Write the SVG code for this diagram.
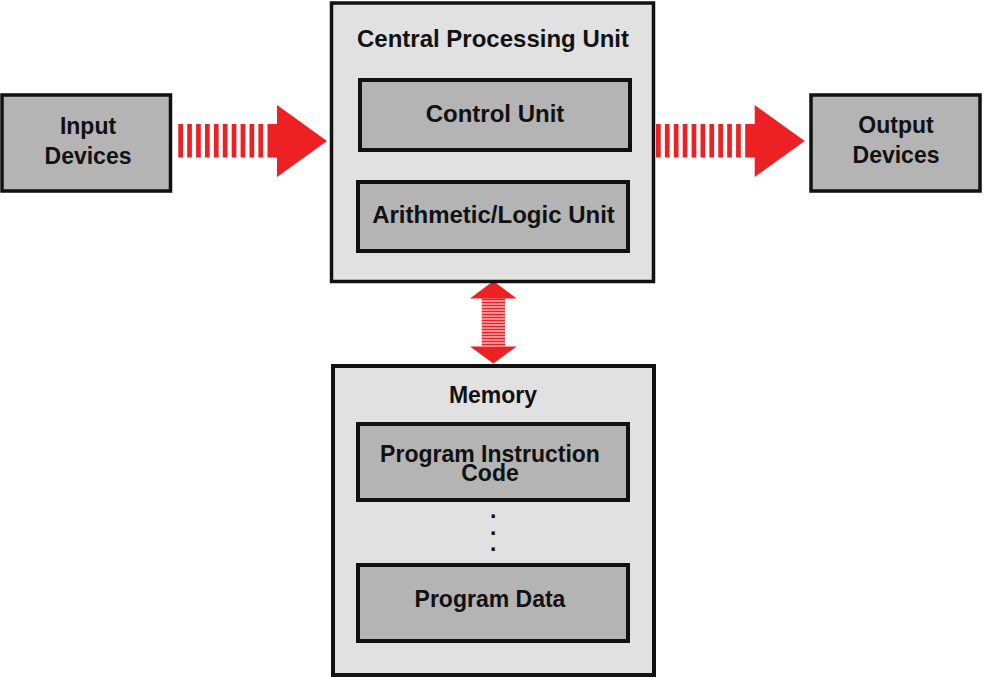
<svg xmlns="http://www.w3.org/2000/svg" xmlns:xlink="http://www.w3.org/1999/xlink" width="1000" height="677" viewBox="0 0 1000 677">
<style>
.outer{fill:#e1e1e1;stroke:#111;stroke-width:3.5}
.inner{fill:#b4b4b4;stroke:#111;stroke-width:4}
.ext{fill:#b4b4b4;stroke:#111;stroke-width:3.5}
.lbl{font-family:"Liberation Sans",Arial,Helvetica,sans-serif;font-weight:bold;font-size:23px;fill:#111;text-anchor:middle}
.big{font-size:24px}
.red{fill:#ed2024}
</style>
<defs>
<g id="harrow" class="red">
<rect x="178.3" y="124" width="4.7" height="33.5"/>
<rect x="187.2" y="124" width="4.7" height="33.5"/>
<rect x="196.1" y="124" width="4.7" height="33.5"/>
<rect x="205.0" y="124" width="4.7" height="33.5"/>
<rect x="213.9" y="124" width="4.7" height="33.5"/>
<rect x="222.8" y="124" width="4.7" height="33.5"/>
<rect x="231.7" y="124" width="4.7" height="33.5"/>
<rect x="240.6" y="124" width="4.7" height="33.5"/>
<rect x="249.5" y="124" width="4.7" height="33.5"/>
<rect x="258.4" y="124" width="4.7" height="33.5"/>
<rect x="267.5" y="124" width="10" height="33.5"/>
<polygon points="277,105 327,141 277,177"/>
</g>
</defs>
<g id="connectors">
<use id="input-to-cpu" xlink:href="#harrow" href="#harrow"/>
<use id="cpu-to-output" xlink:href="#harrow" href="#harrow" transform="translate(477.7,0)"/>
<g id="cpu-memory" class="red">
<polygon points="493.3,281 470,298.5 516.7,298.5"/>
<rect x="481.7" y="298.5" width="23.3" height="2"/>
<rect x="481.7" y="301.5" width="23.3" height="2"/>
<rect x="481.7" y="304.5" width="23.3" height="2"/>
<rect x="481.7" y="307.5" width="23.3" height="2"/>
<rect x="481.7" y="310.5" width="23.3" height="2"/>
<rect x="481.7" y="313.5" width="23.3" height="2"/>
<rect x="481.7" y="316.5" width="23.3" height="2"/>
<rect x="481.7" y="319.5" width="23.3" height="2"/>
<rect x="481.7" y="322.5" width="23.3" height="2"/>
<rect x="481.7" y="325.5" width="23.3" height="2"/>
<rect x="481.7" y="328.5" width="23.3" height="2"/>
<rect x="481.7" y="331.5" width="23.3" height="2"/>
<rect x="481.7" y="334.5" width="23.3" height="2"/>
<rect x="481.7" y="337.5" width="23.3" height="2"/>
<rect x="481.7" y="340.5" width="23.3" height="2"/>
<rect x="481.7" y="343.5" width="23.3" height="2"/>
<polygon points="470,346.5 516.7,346.5 493.3,363.5"/>
</g>
</g>
<g id="input-devices">
<rect class="ext" x="2" y="95" width="168.5" height="96"/>
<text class="lbl" x="88" y="134">Input<tspan x="88" dy="30">Devices</tspan></text>
</g>
<g id="output-devices">
<rect class="ext" x="811" y="95" width="169" height="96"/>
<text class="lbl" x="896" y="133">Output<tspan x="896" dy="30">Devices</tspan></text>
</g>
<g id="cpu">
<rect class="outer" x="331.5" y="3" width="322" height="278.5"/>
<text class="lbl big" x="493" y="47">Central Processing Unit</text>
</g>
<g id="control-unit">
<rect class="inner" x="360" y="80" width="270" height="70"/>
<text class="lbl big" x="495" y="122">Control Unit</text>
</g>
<g id="alu">
<rect class="inner" x="358" y="182" width="270" height="69"/>
<text class="lbl big" x="493.5" y="223">Arithmetic/Logic Unit</text>
</g>
<g id="memory">
<rect class="outer" x="333" y="366" width="321" height="309" style="stroke-width:4"/>
<text class="lbl" x="493" y="403">Memory</text>
<text class="lbl" x="493.3" y="518">.<tspan x="493.3" dy="16.5">.</tspan><tspan x="493.3" dy="16.5">.</tspan></text>
</g>
<g id="program-instruction-code">
<rect class="inner" x="358" y="424" width="270" height="76"/>
<text class="lbl" x="490" y="462">Program Instruction<tspan x="490" dy="19">Code</tspan></text>
</g>
<g id="program-data">
<rect class="inner" x="358" y="565" width="270" height="76"/>
<text class="lbl" x="490" y="607">Program Data</text>
</g>
</svg>
